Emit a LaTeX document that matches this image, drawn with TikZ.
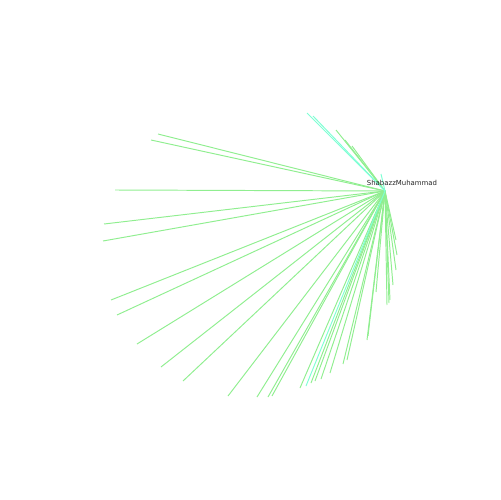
\documentclass[tikz,border=0pt]{standalone}
\usepackage{fontspec}
\setmainfont{DejaVu Sans}
\definecolor{edgegreen}{HTML}{90EE90}
\definecolor{edgecyan}{HTML}{7FFFD4}
\begin{document}
\begin{tikzpicture}[x=0.02cm,y=-0.02cm,
  edge/.style={draw=edgegreen,line width=0.55pt},
  cedge/.style={draw=edgecyan,line width=0.55pt},
  lbl/.style={font=\fontsize{3.95pt}{4.5pt}\selectfont,inner sep=0pt,text=black!85}]
\useasboundingbox (0,0) rectangle (500,500);
\coordinate (hub) at (385,191);
% green leaves
\foreach \i/\x/\y in {a/336/130,b/352/146,c/345/140,d/158/134,e/151/140,f/115/190,g/104/224,h/103/241,
  i/111/300,j/117/315,k/137/344,l/161/367,m/183/381,n/228/396,o/257/397,p/268/397,q/272/396,
  r/300/388,s/311/383,t/315/381,u/321/379,v/330/373,w/343/364,x/347/360,y/367/340,z/368/336,
  aa/376/292,ab/387/305,ac/390/300,ad/393/285,ae/396/270,af/397/255,ag/396/240,ah/389/303}{
  \coordinate (n\i) at (\x,\y);
  \draw[edge] (hub) -- (n\i);
}
% cyan leaves
\foreach \i/\x/\y in {ca/307/113,cb/313/116,cc/306/386,cd/381/174}{
  \coordinate (n\i) at (\x,\y);
  \draw[cedge] (hub) -- (n\i);
}
\node[lbl] (label) at (402,183) {ShabazzMuhammad};
\end{tikzpicture}
\end{document}
